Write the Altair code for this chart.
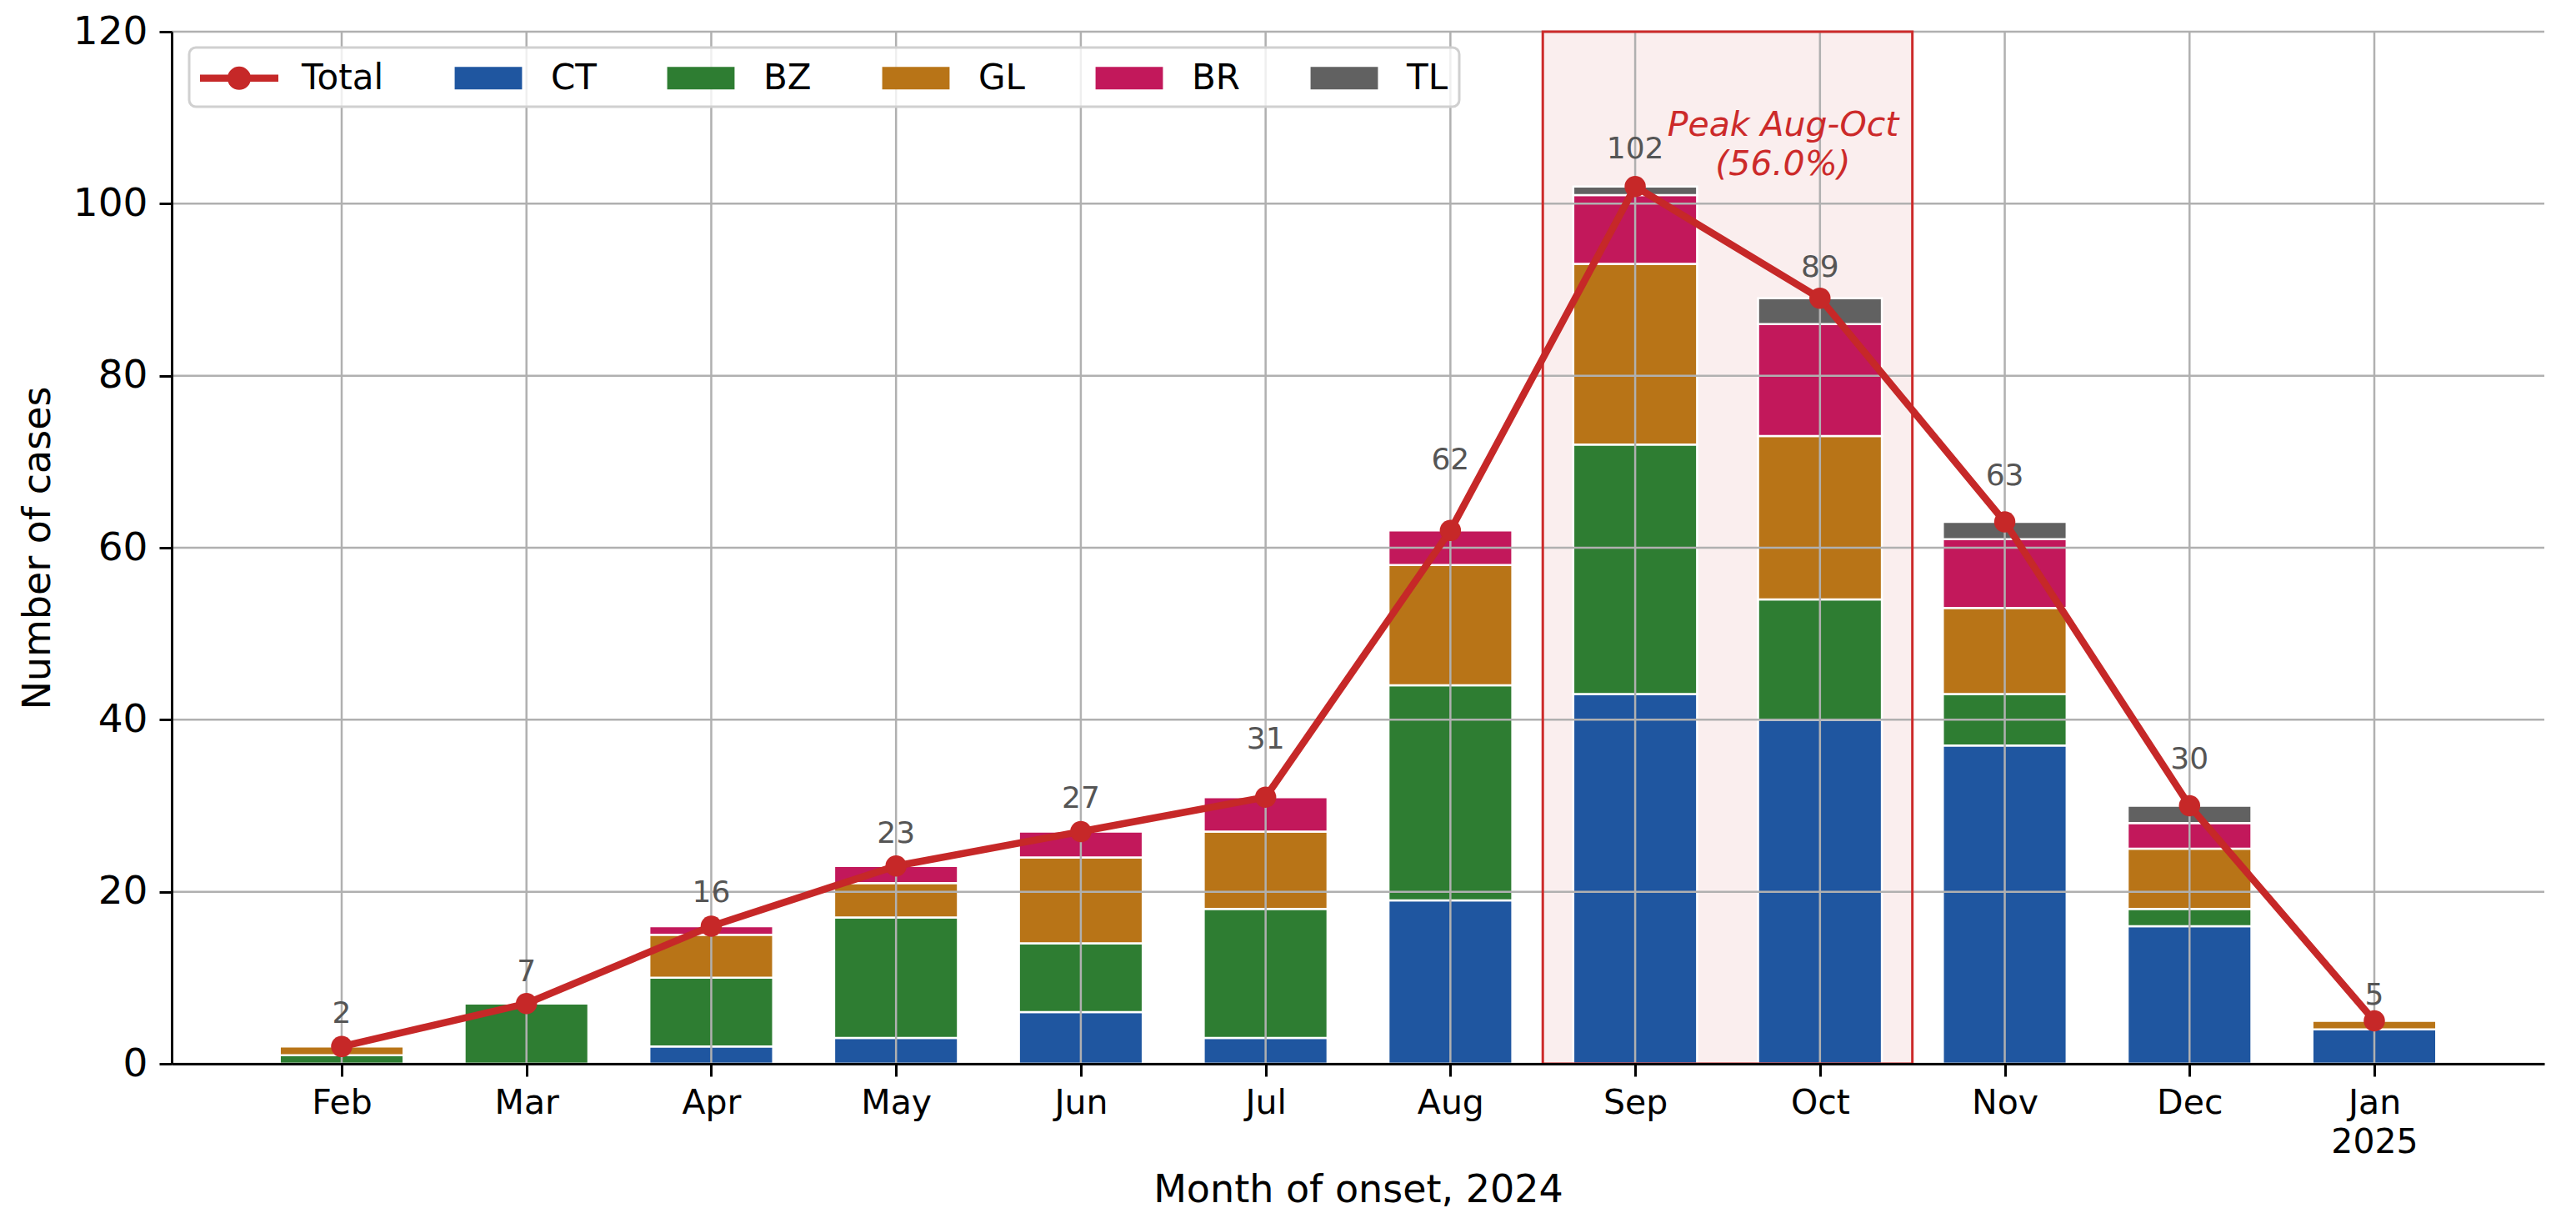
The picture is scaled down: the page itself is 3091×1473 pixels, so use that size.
import json
import altair as alt
import pandas as pd

# ---------------- data ----------------
months = ["Feb", "Mar", "Apr", "May", "Jun", "Jul", "Aug", "Sep", "Oct", "Nov", "Dec", "Jan"]
month_labels = ["Feb", "Mar", "Apr", "May", "Jun", "Jul", "Aug", "Sep", "Oct", "Nov", "Dec", ["Jan", "2025"]]
series_names = ["CT", "BZ", "GL", "BR", "TL"]
ct = [0, 0, 2, 3, 6, 3, 19, 43, 40, 37, 16, 4]
bz = [1, 7, 8, 14, 8, 15, 25, 29, 14, 6, 2, 0]
gl = [1, 0, 5, 4, 10, 9, 14, 21, 19, 10, 7, 1]
br = [0, 0, 1, 2, 3, 4, 4, 8, 13, 8, 3, 0]
tl = [0, 0, 0, 0, 0, 0, 0, 1, 3, 2, 2, 0]
totals = [2, 7, 16, 23, 27, 31, 62, 102, 89, 63, 30, 5]
# where each total label sits (data units)
label_y = [5.8, 10.7, 19.9, 26.8, 30.8, 37.7, 70.2, 106.3, 92.6, 68.3, 35.4, 7.9]
y_ticks = [0, 20, 40, 60, 80, 100, 120]
peak_months = ["Sep", "Oct"]
peak_text = ["Peak Aug-Oct", "(56.0%)"]
peak_text_at = [7.8, 107.9]

# ---------------- styles ----------------
FONT = "DejaVu Sans"
RED = "#c62828"
colors = {"Total": RED, "CT": "#1f56a0", "BZ": "#2e7d32", "GL": "#b87417",
          "BR": "#c2185b", "TL": "#616161"}
legend_domain = ["Total"] + series_names
legend_colors = [colors[s] for s in legend_domain]
# legend symbol paths (unit = half of sqrt(symbolSize)); they start at the slot's left edge
total_path = ("M-1,-0.18H3V0.18H-1Z "
              "M1.6,0A0.6,0.6,0,1,1,0.4,0A0.6,0.6,0,1,1,1.6,0Z")
patch_path = "M-0.72,-0.57H2.72V0.57H-0.72Z"
legend_shapes = [total_path] + [patch_path] * len(series_names)

x_scale = alt.Scale(domain=[-0.92, 11.92], nice=False, zero=False)
y_scale = alt.Scale(domain=[0, 120], nice=False, zero=True)

x_axis = alt.Axis(
    values=list(range(len(months))),
    labelExpr=f"{json.dumps(month_labels)}[datum.value]",
    title="Month of onset, 2024", titleFontSize=46, titleFontWeight="normal",
    titleColor="black", titlePadding=15,
    labelFontSize=41, labelColor="black", labelPadding=12, labelLineHeight=47,
    labelFlush=False, labelOverlap=False, labelBound=False,
    tickSize=15, tickWidth=3, tickColor="black",
    domainWidth=3, domainColor="black", grid=False, zindex=1,
)
y_axis = alt.Axis(
    values=y_ticks, title="Number of cases", titleFontSize=46, titleFontWeight="normal",
    titleColor="black", titlePadding=18,
    labelFontSize=47, labelColor="black", labelPadding=14, labelFlush=False,
    tickSize=15, tickWidth=3, tickColor="black",
    domainWidth=3, domainColor="black", grid=False, zindex=1,
)


def X(field):
    return alt.X(field, scale=x_scale, axis=x_axis)


def Y(field):
    return alt.Y(field, scale=y_scale, axis=y_axis)


# ---------------- tables ----------------
rows = []
for i, m in enumerate(months):
    for k, (s, vals) in enumerate(zip(series_names, [ct, bz, gl, br, tl])):
        rows.append({"idx": i, "month": m, "series": s, "order": k,
                     "count": vals[i], "fillc": colors[s]})
bars_df = pd.DataFrame(rows)
tot_df = pd.DataFrame({"idx": list(range(len(months))), "total": totals, "label_y": label_y})
peak_idx = [months.index(m) for m in peak_months]
hl_df = pd.DataFrame({"x0": [min(peak_idx) - 0.5], "x1": [max(peak_idx) + 0.5],
                      "y0": [y_ticks[0]], "y1": [y_ticks[-1]]})
ann_df = pd.DataFrame({"x": [peak_text_at[0]], "y": [peak_text_at[1]], "text": ["\n".join(peak_text)]})
vgrid_df = pd.DataFrame({"x": list(range(len(months)))})
hgrid_df = pd.DataFrame({"y": y_ticks})
leg_df = pd.DataFrame({"series": legend_domain, "x": [-50] * len(legend_domain), "y": [0] * len(legend_domain)})

# ---------------- layers ----------------
hl_fill = alt.Chart(hl_df).mark_rect(fill="#faeeee").encode(
    x=X("x0:Q"), x2="x1:Q", y=Y("y0:Q"), y2="y1:Q")

bars = (
    alt.Chart(bars_df)
    .transform_filter("datum.count > 0")
    .transform_stack(stack="count", groupby=["idx"], as_=["s0", "s1"],
                     sort=[alt.SortField("order", "ascending")])
    .transform_calculate(xa="datum.idx - 0.335", xb="datum.idx + 0.335")
    .mark_rect(stroke="white", strokeWidth=2.5)
    .encode(
        x=X("xa:Q"), x2="xb:Q", y=Y("s0:Q"), y2="s1:Q",
        fill=alt.Fill("fillc:N", scale=None),
    )
)

vgrid = alt.Chart(vgrid_df).mark_rule(color="#b0b0b0", strokeWidth=2.5).encode(x=X("x:Q"))
hgrid = alt.Chart(hgrid_df).mark_rule(color="#b0b0b0", strokeWidth=2.5).encode(y=Y("y:Q"))

hl_border = alt.Chart(hl_df).mark_rect(fillOpacity=0, stroke="#cc2a2a", strokeWidth=3).encode(
    x=X("x0:Q"), x2="x1:Q", y=Y("y0:Q"), y2="y1:Q")

line = alt.Chart(tot_df).mark_line(color=RED, strokeWidth=8.5).encode(x=X("idx:Q"), y=Y("total:Q"))
pts = alt.Chart(tot_df).mark_circle(color=RED, size=650, opacity=1).encode(x=X("idx:Q"), y=Y("total:Q"))
labels = alt.Chart(tot_df).mark_text(fontSize=36, color="#555555", baseline="middle",
                                     align="center").encode(
    x=X("idx:Q"), y=Y("label_y:Q"), text=alt.Text("total:Q"))

ann = alt.Chart(ann_df).mark_text(lineBreak="\n", lineHeight=47, fontSize=41, fontStyle="italic",
                                  color="#cc2a2a", baseline="alphabetic", align="center").encode(
    x=X("x:Q"), y=Y("y:Q"), text="text:N")

leg = alt.Legend(
    title=None, orient="none", legendX=21, legendY=19, direction="horizontal", columns=6,
    symbolSize=2209, symbolOpacity=1, symbolStrokeWidth=0,
    labelFontSize=42, labelColor="black", labelOffset=75, labelLimit=0,
    columnPadding=78, padding=13, strokeColor="#d0d0d0",
    fillColor="rgba(255,255,255,0.8)", cornerRadius=8,
)
legend_layer = alt.Chart(leg_df).mark_point(filled=True, clip=True).encode(
    x=X("x:Q"), y=Y("y:Q"),
    fill=alt.Fill("series:N", scale=alt.Scale(domain=legend_domain, range=legend_colors), legend=leg),
    shape=alt.Shape("series:N", scale=alt.Scale(domain=legend_domain, range=legend_shapes), legend=leg),
)

chart = (
    alt.layer(hl_fill, bars, vgrid, hgrid, hl_border, line, pts, labels, ann, legend_layer)
    .properties(width=2847, height=1238,
                padding={"left": 198, "top": 30, "right": 30, "bottom": 190},
                autosize=alt.AutoSizeParams(type="none"))
    .configure(font=FONT)
    .configure_view(stroke=None)
    .configure_legend(strokeWidth=3)
)

chart.save("out.html", embed_options={"renderer": "svg", "actions": False})
